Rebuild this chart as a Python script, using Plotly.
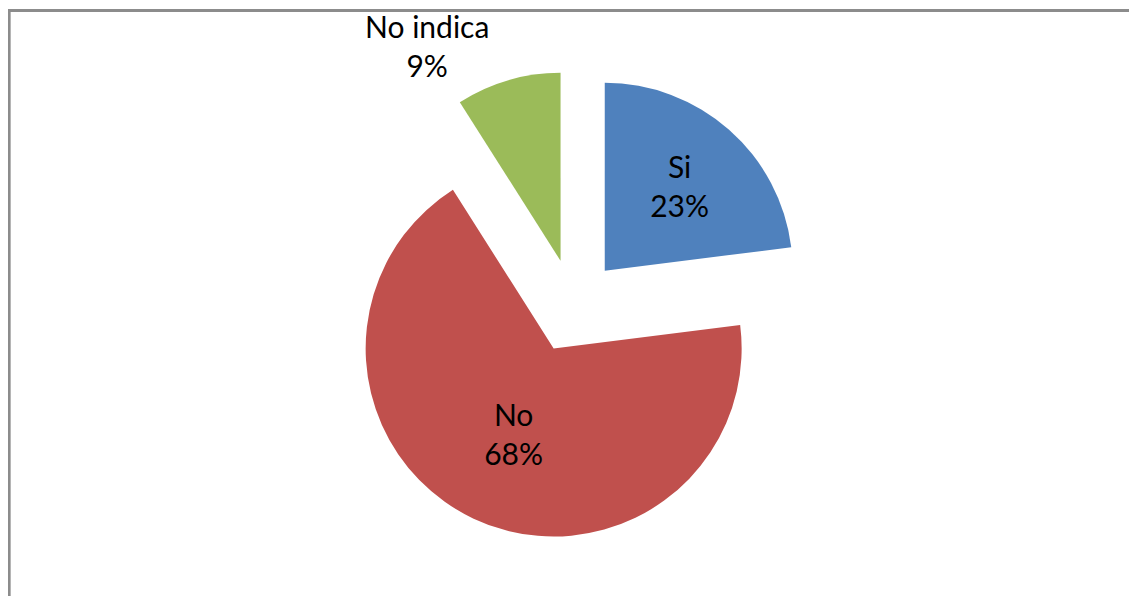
import plotly.graph_objects as go

# datos del gráfico
labels = ["Si", "No", "No indica"]
values = [23, 68, 9]
colors = ["#4F81BD", "#C0504D", "#9BBB59"]

fig = go.Figure()

fig.add_trace(go.Pie(
    labels=labels,
    values=values,
    sort=False,
    direction="clockwise",
    rotation=0,
    pull=[0.25, 0.25, 0.25],
    marker=dict(colors=colors, line=dict(width=0)),
    textinfo="label+percent",
    textposition=["inside", "inside", "outside"],
    insidetextorientation="horizontal",
    textfont=dict(family="Lato", size=30, color="#000000"),
    automargin=False,
    showlegend=False,
    domain=dict(x=[0.19, 0.805], y=[0.1057, 0.8943]),
))

# marco gris del área del gráfico (la página ya deja ~8px de margen)
fig.add_shape(
    type="rect", xref="paper", yref="paper",
    x0=0.001, x1=1.02, y0=-0.05, y1=0.996,
    line=dict(color="#8C8C8C", width=3),
)

fig.update_layout(
    width=1137,
    height=596,
    margin=dict(l=0, r=0, t=0, b=0, autoexpand=False),
    paper_bgcolor="white",
    plot_bgcolor="white",
)

fig.write_html("out.html")
